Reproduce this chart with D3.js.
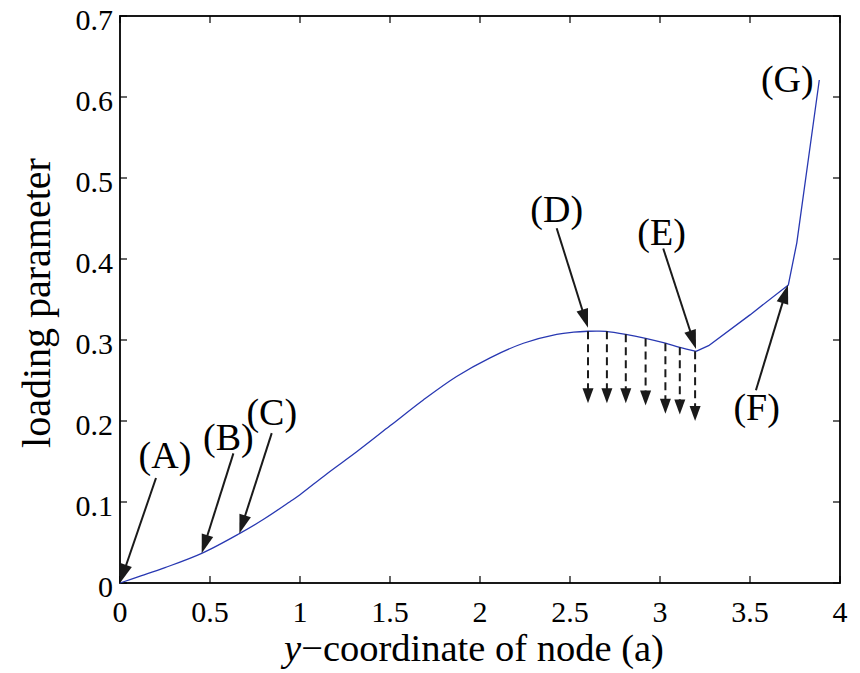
<!DOCTYPE html>
<html>
<head>
<meta charset="utf-8">
<script src="https://cdn.jsdelivr.net/npm/d3@7/dist/d3.min.js"></script>
<style>
  html, body { margin: 0; padding: 0; background: #fff; }
  svg { display: block; }
</style>
</head>
<body>
<svg id="chart" width="860" height="673"></svg>
<script>
// Equilibrium path: y-coordinate of node (a) vs. loading parameter
const nodeY = [0, 0.12, 0.25, 0.454, 0.663, 0.8, 0.944, 1.0, 1.15, 1.315, 1.5, 1.685, 1.87,
  2.056, 2.241, 2.426, 2.52, 2.6, 2.65, 2.7, 2.81, 2.92, 3.03, 3.11, 3.2, 3.27, 3.5, 3.713, 3.76, 3.885];
const loadParam = [0, 0.009, 0.019, 0.0366, 0.061, 0.079, 0.1004, 0.109, 0.135, 0.162, 0.194, 0.226, 0.255,
  0.278, 0.296, 0.307, 0.3097, 0.3108, 0.311, 0.3107, 0.307, 0.302, 0.296, 0.291, 0.286, 0.293, 0.331, 0.368, 0.420, 0.621];
// index of the limit point (E) where the smooth branch ends
const branchEnd = 24;

const xTicks = [0, 0.5, 1, 1.5, 2, 2.5, 3, 3.5, 4];
const yTicks = [0, 0.1, 0.2, 0.3, 0.4, 0.5, 0.6, 0.7];

// Labelled states along the path: label, arrow target (x, y)
const stateLabels = ["(A)", "(B)", "(C)", "(D)", "(E)", "(F)", "(G)"];
const stateX = [0, 0.454, 0.663, 2.6, 3.2, 3.711, 3.885];
const stateY = [0, 0.0366, 0.061, 0.311, 0.286, 0.368, 0.621];

// Snap-through jumps (dashed): start on the path, end below
const jumpX = [2.6, 2.705, 2.81, 2.92, 3.03, 3.11, 3.195];
const jumpFrom = [0.3108, 0.3107, 0.307, 0.302, 0.296, 0.291, 0.286];
const jumpTo = [0.222, 0.222, 0.222, 0.219, 0.209, 0.208, 0.200];

// Where each label text sits and where its arrow starts (data units)
const labelLayout = [
  { tx: 0.25,  ty: 0.142,  ax: 0.2,   ay: 0.1296, arrow: true },
  { tx: 0.602, ty: 0.164,  ax: 0.63,  ay: 0.160,  arrow: true },
  { tx: 0.843, ty: 0.195,  ax: 0.843, ay: 0.185,  arrow: true },
  { tx: 2.426, ty: 0.446,  ax: 2.426, ay: 0.438,  arrow: true, tipDy: 0.004 },
  { tx: 3.009, ty: 0.417,  ax: 3.018, ay: 0.413,  arrow: true, tipDy: 0.003 },
  { tx: 3.537, ty: 0.201,  ax: 3.533, ay: 0.238,  arrow: true },
  { tx: 3.707, ty: 0.6065, arrow: false }
];

const serif = "'Liberation Serif', Tinos, 'Times New Roman', Times, 'DejaVu Serif', serif";

const svg = d3.select("#chart")
  .attr("font-family", serif);
const plotL = 120, plotR = 840, plotT = 16, plotB = 583;

const x = d3.scaleLinear().domain([0, 4]).range([plotL, plotR]);
const y = d3.scaleLinear().domain([0, 0.7]).range([plotB, plotT]);

const axisColor = "#000";
const tickLen = 7;

// Frame
svg.append("rect")
  .attr("x", plotL).attr("y", plotT)
  .attr("width", plotR - plotL).attr("height", plotB - plotT)
  .attr("fill", "none").attr("stroke", axisColor).attr("stroke-width", 1.8);

// Ticks (inward, on all four sides)
const tickG = svg.append("g").attr("stroke", axisColor).attr("stroke-width", 1.2);
xTicks.forEach(t => {
  tickG.append("line").attr("x1", x(t)).attr("x2", x(t)).attr("y1", plotB).attr("y2", plotB - tickLen);
  tickG.append("line").attr("x1", x(t)).attr("x2", x(t)).attr("y1", plotT).attr("y2", plotT + tickLen);
});
yTicks.forEach(t => {
  tickG.append("line").attr("x1", plotL).attr("x2", plotL + tickLen).attr("y1", y(t)).attr("y2", y(t));
  tickG.append("line").attr("x1", plotR).attr("x2", plotR - tickLen).attr("y1", y(t)).attr("y2", y(t));
});

// Tick labels
svg.append("g").selectAll("text").data(xTicks).join("text")
  .attr("font-family", serif)
  .attr("x", d => x(d)).attr("y", 622)
  .attr("text-anchor", "middle").attr("font-size", 30)
  .text(d => d3.format("~g")(d));

svg.append("g").selectAll("text").data(yTicks).join("text")
  .attr("font-family", serif)
  .attr("x", plotL - 7).attr("y", d => y(d) + 14)
  .attr("text-anchor", "end").attr("font-size", 30)
  .text(d => d3.format("~g")(d));

// Axis titles
const xTitle = svg.append("text")
  .attr("font-family", serif)
  .attr("x", 474).attr("y", 661)
  .attr("text-anchor", "middle").attr("font-size", 38.5);
xTitle.append("tspan").attr("font-style", "italic").text("y");
xTitle.append("tspan").text("\u2212coordinate of node (a)");

svg.append("text")
  .attr("font-family", serif)
  .attr("transform", `translate(50, 303) rotate(-90)`)
  .attr("text-anchor", "middle").attr("font-size", 40)
  .text("loading parameter");

// Path: smooth branch up to the limit point, then piecewise-linear
const pts = nodeY.map((v, i) => [v, loadParam[i]]);
const lineSmooth = d3.line().x(d => x(d[0])).y(d => y(d[1])).curve(d3.curveCatmullRom.alpha(0.5));
const lineSharp = d3.line().x(d => x(d[0])).y(d => y(d[1]));
const pathG = svg.append("g")
  .attr("fill", "none").attr("stroke", "#2838b2")
  .attr("stroke-width", 1.3).attr("stroke-linejoin", "round");
pathG.append("path").attr("d", lineSmooth(pts.slice(0, branchEnd + 1)));
pathG.append("path").attr("d", lineSharp(pts.slice(branchEnd)));

// Arrow helper: shaft from (x1,y1) to base of a filled head ending at (x2,y2)
function arrow(g, x1, y1, x2, y2, headLen, headHalf, dash) {
  const dx = x2 - x1, dy = y2 - y1;
  const len = Math.hypot(dx, dy);
  const ux = dx / len, uy = dy / len;
  const bx = x2 - ux * headLen, by = y2 - uy * headLen;
  g.append("line")
    .attr("x1", x1).attr("y1", y1).attr("x2", bx + ux * 1).attr("y2", by + uy * 1)
    .attr("stroke", "#1a1a1a").attr("stroke-width", 2)
    .attr("stroke-dasharray", dash || null);
  const px = -uy, py = ux;
  g.append("path")
    .attr("d", `M${x2},${y2}L${bx + px * headHalf},${by + py * headHalf}L${bx - px * headHalf},${by - py * headHalf}Z`)
    .attr("fill", "#1a1a1a");
}

// Dashed jump arrows
const jumpG = svg.append("g");
jumpX.forEach((jx, i) => {
  arrow(jumpG, x(jx), y(jumpFrom[i]), x(jx), y(jumpTo[i]), 15, 5.5, "8,5");
});

// State labels and arrows
const annoG = svg.append("g");
stateLabels.forEach((lab, i) => {
  const L = labelLayout[i];
  annoG.append("text")
    .attr("font-family", serif)
    .attr("x", x(L.tx)).attr("y", y(L.ty))
    .attr("text-anchor", "middle").attr("font-size", 38)
    .text(lab);
  if (L.arrow) {
    arrow(annoG, x(L.ax), y(L.ay), x(stateX[i]), y(stateY[i] + (L.tipDy || 0)), 19, 6);
  }
});
</script>
</body>
</html>
